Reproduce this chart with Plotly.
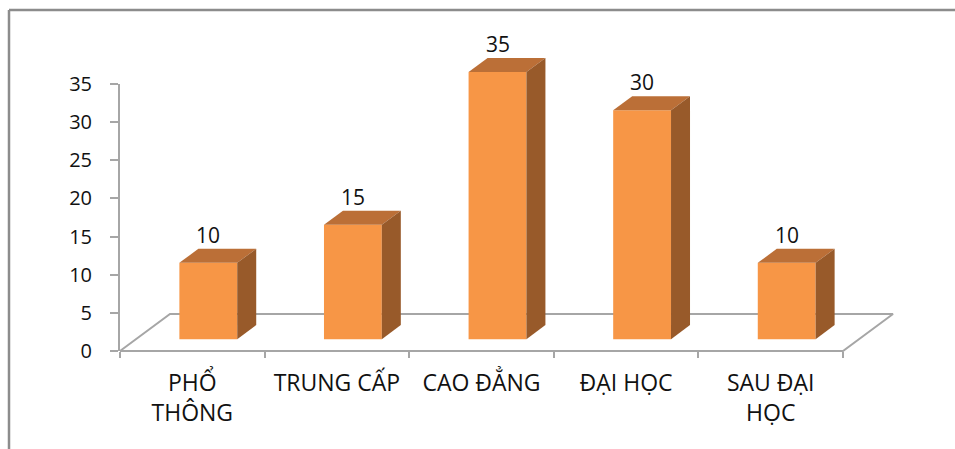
import plotly.graph_objects as go

# ---- data ----
categories = ["PHỔ<br>THÔNG", "TRUNG CẤP", "CAO ĐẲNG", "ĐẠI HỌC", "SAU ĐẠI<br>HỌC"]
values = [10, 15, 35, 30, 10]
y_ticks = [0, 5, 10, 15, 20, 25, 30, 35]

# ---- layout geometry (pixels) ----
W, H = 955, 449
ORIGIN_X, ORIGIN_Y = 120.0, 351.0      # front-left corner of the floor, value 0
CAT_PX = 144.6                          # width of one category slot
UNIT_PX = 7.63                          # pixels per value unit
DEPTH_PX = (50.0, 37.0)                 # oblique offset of the floor's back edge
Y_MAX = 35

n = len(categories)

# main drawing axes: x in category units (slot i spans i-0.5 .. i+0.5), y in value units
x_lo = -0.5 - ORIGIN_X / CAT_PX
x_hi = -0.5 + (W - ORIGIN_X) / CAT_PX
y_lo = -(H - ORIGIN_Y) / UNIT_PX
y_hi = ORIGIN_Y / UNIT_PX
ddx = DEPTH_PX[0] / CAT_PX
ddy = DEPTH_PX[1] / UNIT_PX

HALF_W = 0.2          # half bar width in category units
D_FRONT, D_BACK = 0.32, 0.70   # bar depth span as fraction of floor depth

FRONT = "#F79646"
TOP = "#BB6F37"
SIDE = "#985A2A"
GRID_GRAY = "#A6A6A6"
FONT = "Open Sans"


def proj(x, y, d):
    return x + d * ddx, y + d * ddy


def poly(points):
    xs, ys = zip(*[proj(*p) for p in points])
    return list(xs) + [xs[0]], list(ys) + [ys[0]]


fig = go.Figure()

# floor outline
fx, fy = poly([(-0.5, 0, 0), (n - 0.5, 0, 0), (n - 0.5, 0, 1), (-0.5, 0, 1)])
fig.add_trace(go.Scatter(x=fx, y=fy, mode="lines", line=dict(color=GRID_GRAY, width=2),
                         hoverinfo="skip", showlegend=False))

# 3D columns
for i, v in enumerate(values):
    l, r = i - HALF_W, i + HALF_W
    faces = [
        ([(l, 0, D_FRONT), (r, 0, D_FRONT), (r, v, D_FRONT), (l, v, D_FRONT)], FRONT),
        ([(l, v, D_FRONT), (r, v, D_FRONT), (r, v, D_BACK), (l, v, D_BACK)], TOP),
        ([(r, 0, D_FRONT), (r, 0, D_BACK), (r, v, D_BACK), (r, v, D_FRONT)], SIDE),
    ]
    for pts, col in faces:
        px_, py_ = poly(pts)
        fig.add_trace(go.Scatter(x=px_, y=py_, mode="lines", fill="toself",
                                 fillcolor=col, line=dict(width=0, color=col),
                                 hoverinfo="skip", showlegend=False))
    lx, ly = proj(i, v, D_FRONT)
    fig.add_annotation(x=lx, y=ly + 28 / UNIT_PX, xref="x", yref="y", text=str(v),
                       showarrow=False, xanchor="center", yanchor="middle",
                       font=dict(family=FONT, size=21, color="#111111"))

# category / value axes
fig.add_trace(go.Scatter(x=[c for c in categories], y=values, xaxis="x2", yaxis="y2",
                         mode="markers", marker=dict(opacity=0), hoverinfo="skip",
                         showlegend=False))

fig.update_layout(
    width=W, height=H,
    margin=dict(l=0, r=0, t=0, b=0, pad=0, autoexpand=False),
    paper_bgcolor="white", plot_bgcolor="rgba(0,0,0,0)",
    xaxis=dict(domain=[0, 1], range=[x_lo, x_hi], visible=False, fixedrange=True,
               automargin=False),
    yaxis=dict(domain=[0, 1], range=[y_lo, y_hi], visible=False, fixedrange=True,
               automargin=False),
    xaxis2=dict(domain=[ORIGIN_X / W, (ORIGIN_X + n * CAT_PX) / W], anchor="y2",
                type="category", categoryorder="array", categoryarray=categories,
                range=[-0.5, n - 0.5], tickson="boundaries", ticks="outside",
                ticklen=6, tickwidth=2, tickcolor=GRID_GRAY, showline=False,
                showgrid=False, zeroline=False, ticklabelstandoff=16, automargin=False,
                fixedrange=True,
                tickfont=dict(family=FONT, size=23, color="#111111")),
    yaxis2=dict(domain=[(H - ORIGIN_Y) / H, (H - ORIGIN_Y + Y_MAX * UNIT_PX) / H],
                anchor="x2", range=[0, Y_MAX], tickvals=y_ticks, ticks="outside",
                ticklen=8, tickwidth=2, tickcolor=GRID_GRAY, showline=True,
                linecolor=GRID_GRAY, linewidth=2, showgrid=False, zeroline=False,
                ticklabelstandoff=14, automargin=False, fixedrange=True,
                tickfont=dict(family=FONT, size=20, color="#111111")),
)

# outer frame (top and left edges)
frame = dict(type="line", xref="paper", yref="paper", line=dict(color="#8C8C8C", width=2.5))
fig.add_shape(**frame, x0=9 / W, x1=1, y0=(H - 10) / H, y1=(H - 10) / H)
fig.add_shape(**frame, x0=9 / W, x1=9 / W, y0=0, y1=(H - 10) / H)

fig.write_html("out.html", config={"displayModeBar": False})
